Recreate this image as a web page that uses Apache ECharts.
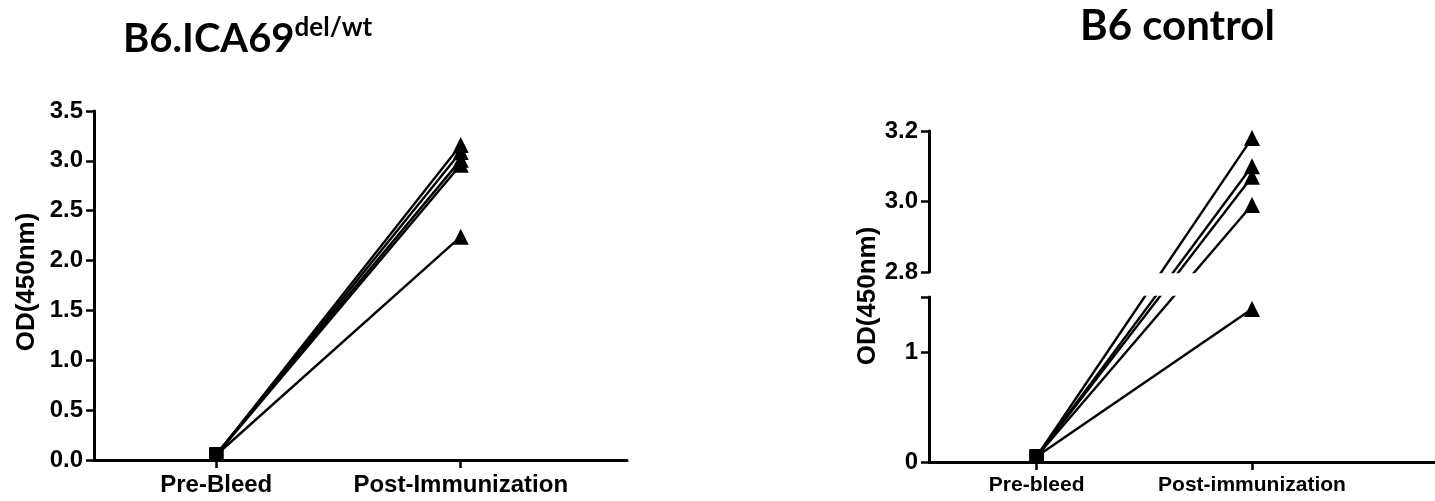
<!DOCTYPE html>
<html>
<head>
<meta charset="utf-8">
<title>OD450 B6.ICA69 vs B6 control</title>
<script src="https://cdn.jsdelivr.net/npm/echarts@6/dist/echarts.min.js"></script>
<style>
html, body { margin: 0; padding: 0; background: #fff; }
#main { width: 1435px; height: 501px; }
</style>
</head>
<body>
<div id="main"></div>
<script type="text/javascript">
// categories (x positions 1 and 2 on a value axis)
var leftCats = ['Pre-Bleed', 'Post-Immunization'];
var rightCats = ['Pre-bleed', 'Post-immunization'];

// OD(450nm) per mouse
var delPre = [0.05, 0.05, 0.06, 0.05, 0.05];
var delPost = [3.16, 3.09, 3.01, 2.96, 2.24];
var ctrlPre = [0.05, 0.05, 0.05, 0.05, 0.05];
var ctrlPost = [3.18, 3.10, 3.07, 2.99, 1.39];

// tick values
var leftYTicks = [0, 0.5, 1.0, 1.5, 2.0, 2.5, 3.0, 3.5];
var topYTicks = [2.8, 3.0, 3.2];
var lowYLabels = [0, 1];
var lowYTicks = [0, 1, 1.5];
var lowMax = 1.5;   // top of the lower segment of the broken axis

var font = 'Liberation Sans, Arial, sans-serif';
var chart = echarts.init(document.getElementById('main'));

function xAxisOf(grid, cats, max, size, show) {
    return {
        type: 'value', gridIndex: grid, min: 0.5, max: max, show: show,
        axisLine: { show: true, onZero: false, lineStyle: { color: '#000', width: 3 } },
        axisTick: { show: true, customValues: [1, 2], length: 8, lineStyle: { color: '#000', width: 2.5 } },
        axisLabel: {
            customValues: [1, 2], margin: 13, color: '#000',
            fontFamily: font, fontWeight: 'bold', fontSize: size,
            formatter: function (v) { return cats[Math.round(v) - 1]; }
        },
        splitLine: { show: false }
    };
}

function yAxisOf(grid, min, max, ticks, labels, size, digits) {
    return {
        type: 'value', gridIndex: grid, min: min, max: max,
        axisLine: { show: true, onZero: false, lineStyle: { color: '#000', width: 3 } },
        axisTick: { show: true, customValues: ticks, length: 8, lineStyle: { color: '#000', width: 2.5 } },
        axisLabel: {
            customValues: labels, margin: 11, color: '#000',
            fontFamily: font, fontWeight: 'bold', fontSize: size,
            formatter: function (v) { return v.toFixed(digits); }
        },
        splitLine: { show: false }
    };
}

function pairLine(grid, p, q, symP, symQ) {
    return {
        type: 'line', xAxisIndex: grid, yAxisIndex: grid,
        data: [{ value: [1, p], symbol: symP, symbolSize: 14 }, { value: [2, q], symbol: symQ, symbolSize: 16 }],
        showSymbol: true,
        lineStyle: { color: '#000', width: 2.4 },
        itemStyle: { color: '#000' },
        animation: false, silent: true
    };
}

var series = [];
delPre.forEach(function (p, i) {
    series.push(pairLine(0, p, delPost[i], 'rect', 'triangle'));
});

var option = {
    backgroundColor: '#fff',
    animation: false,
    title: [
        {
            text: '{a|B6.ICA69}{b|del/wt}', left: 118, top: 10,
            textStyle: {
                rich: {
                    a: { fontFamily: 'Lato', fontWeight: 'bold', fontSize: 40, lineHeight: 44, verticalAlign: 'bottom', color: '#000' },
                    b: { fontFamily: 'Lato', fontWeight: 'bold', fontSize: 26, lineHeight: 24, verticalAlign: 'top', color: '#000' }
                }
            }
        },
        {
            text: 'B6 control', left: 1075, top: 0,
            textStyle: { fontFamily: 'Lato', fontWeight: 'bold', fontSize: 42, color: '#000' }
        }
    ],
    graphic: [
        {
            type: 'text', x: 27, y: 282, rotation: Math.PI / 2,
            style: { text: 'OD(450nm)', fontFamily: font, fontWeight: 'bold', fontSize: 26, fill: '#000', align: 'center', verticalAlign: 'middle' }
        },
        {
            type: 'text', x: 868, y: 296, rotation: Math.PI / 2,
            style: { text: 'OD(450nm)', fontFamily: font, fontWeight: 'bold', fontSize: 26, fill: '#000', align: 'center', verticalAlign: 'middle' }
        }
    ],
    grid: [
        { left: 94, top: 111, width: 533, height: 349 },
        { left: 929, top: 131, width: 506, height: 141 },
        { left: 929, top: 297, width: 506, height: 165 }
    ],
    xAxis: [
        xAxisOf(0, leftCats, 2.68, 24, true),
        xAxisOf(1, rightCats, 2.85, 21, false),
        xAxisOf(2, rightCats, 2.85, 21, true)
    ],
    yAxis: [
        yAxisOf(0, 0, 3.5, leftYTicks, leftYTicks, 24, 1),
        yAxisOf(1, 2.8, 3.2, topYTicks, topYTicks, 24, 1),
        yAxisOf(2, 0, lowMax, lowYTicks, lowYLabels, 24, 0)
    ],
    series: series
};
chart.setOption(option);

// broken axis: a line crossing the break stays straight on screen,
// so each end is carried over to the other segment through the pixel scale
ctrlPre.forEach(function (p, i) {
    var q = ctrlPost[i];
    if (q <= lowMax) {
        series.push(pairLine(2, p, q, 'rect', 'triangle'));
        return;
    }
    var qLow = chart.convertFromPixel({ gridIndex: 2 }, chart.convertToPixel({ gridIndex: 1 }, [2, q]))[1];
    var pTop = chart.convertFromPixel({ gridIndex: 1 }, chart.convertToPixel({ gridIndex: 2 }, [1, p]))[1];
    series.push(pairLine(2, p, qLow, 'rect', 'none'));
    series.push(pairLine(1, pTop, q, 'none', 'triangle'));
});
chart.setOption({ series: series });
</script>
</body>
</html>
